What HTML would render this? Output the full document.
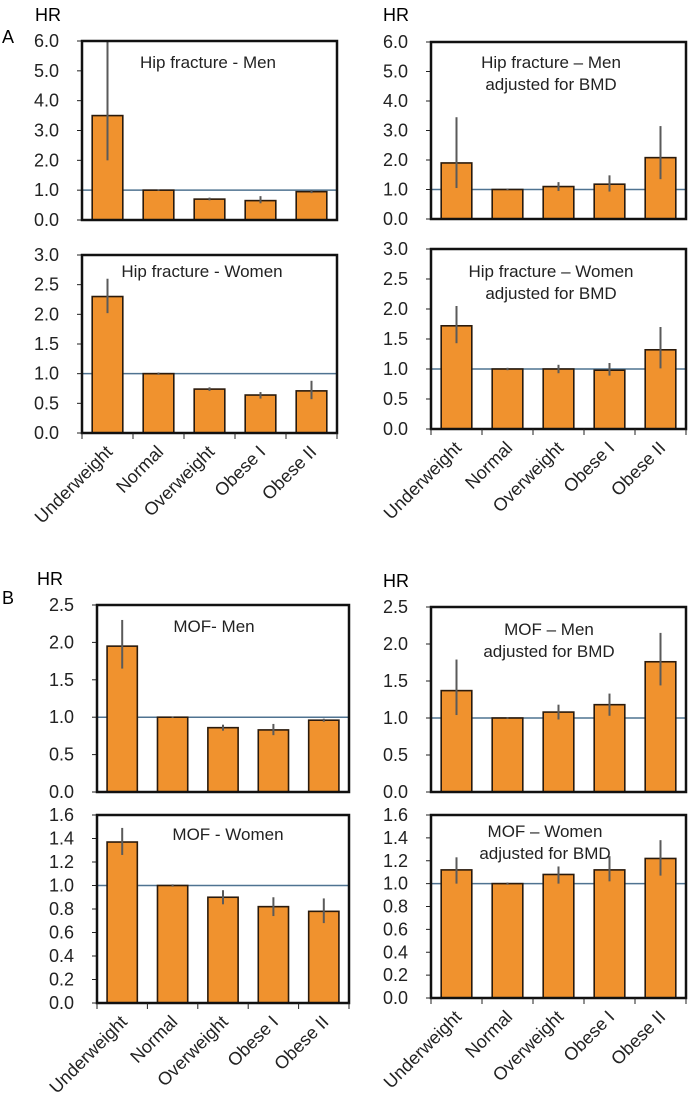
<!DOCTYPE html>
<html><head><meta charset="utf-8">
<style>
html,body{margin:0;padding:0;background:#fff;}
svg{display:block;font-family:"Liberation Sans",sans-serif;}
</style></head>
<body>
<svg id="fig" width="696" height="1109" viewBox="0 0 696 1109" xmlns="http://www.w3.org/2000/svg">
<text x="2" y="43" font-size="18">A</text>
<text x="2" y="604" font-size="18">B</text>
<text x="35" y="21" font-size="18">HR</text>
<text x="383" y="21" font-size="18">HR</text>
<text x="37" y="585" font-size="18">HR</text>
<text x="383" y="587" font-size="18">HR</text>
</svg>
<script>
const categories = ["Underweight","Normal","Overweight","Obese I","Obese II"];

const hipMenVals = [3.5,1.0,0.7,0.65,0.95];
const hipMenLo = [2.0,0.98,0.66,0.56,0.9];
const hipMenHi = [6.0,1.02,0.75,0.8,1.0];

const hipWomenVals = [2.3,1.0,0.74,0.64,0.71];
const hipWomenLo = [2.02,0.98,0.71,0.58,0.57];
const hipWomenHi = [2.6,1.02,0.77,0.69,0.88];

const hipMenAdjVals = [1.9,1.0,1.1,1.18,2.08];
const hipMenAdjLo = [1.05,0.98,0.95,0.93,1.35];
const hipMenAdjHi = [3.45,1.02,1.25,1.48,3.15];

const hipWomenAdjVals = [1.72,1.0,1.0,0.98,1.32];
const hipWomenAdjLo = [1.43,0.98,0.93,0.89,1.01];
const hipWomenAdjHi = [2.05,1.02,1.07,1.1,1.7];

const mofMenVals = [1.95,1.0,0.86,0.83,0.96];
const mofMenLo = [1.65,0.99,0.82,0.76,0.94];
const mofMenHi = [2.3,1.01,0.9,0.91,0.98];

const mofWomenVals = [1.37,1.0,0.9,0.82,0.78];
const mofWomenLo = [1.26,0.99,0.84,0.74,0.68];
const mofWomenHi = [1.49,1.01,0.96,0.9,0.89];

const mofMenAdjVals = [1.37,1.0,1.08,1.18,1.76];
const mofMenAdjLo = [1.04,0.99,0.98,1.03,1.44];
const mofMenAdjHi = [1.79,1.01,1.18,1.33,2.15];

const mofWomenAdjVals = [1.12,1.0,1.08,1.12,1.22];
const mofWomenAdjLo = [1.0,0.99,1.0,1.02,1.07];
const mofWomenAdjHi = [1.23,1.01,1.15,1.24,1.38];

const ticks6 = ["0.0","1.0","2.0","3.0","4.0","5.0","6.0"];
const ticks3 = ["0.0","0.5","1.0","1.5","2.0","2.5","3.0"];
const ticks25 = ["0.0","0.5","1.0","1.5","2.0","2.5"];
const ticks16 = ["0.0","0.2","0.4","0.6","0.8","1.0","1.2","1.4","1.6"];

const NS = "http://www.w3.org/2000/svg";
const svg = document.getElementById("fig");
function mk(tag, attrs){const e=document.createElementNS(NS,tag);for(const k in attrs)e.setAttribute(k,attrs[k]);svg.appendChild(e);return e;}

const panels = [
 {id:"hip-men",x0:82,x1:337,y0:41,y1:220,ticks:ticks6,v:hipMenVals,lo:hipMenLo,hi:hipMenHi,title:["Hip fracture - Men"],tx:208,ty:68,cats:false},
 {id:"hip-women",x0:82,x1:337,y0:255,y1:433,ticks:ticks3,v:hipWomenVals,lo:hipWomenLo,hi:hipWomenHi,title:["Hip fracture - Women"],tx:202,ty:277,cats:true},
 {id:"hip-men-adj",x0:431,x1:686,y0:42,y1:219,ticks:ticks6,v:hipMenAdjVals,lo:hipMenAdjLo,hi:hipMenAdjHi,title:["Hip fracture \u2013 Men","adjusted for BMD"],tx:551,ty:68,cats:false},
 {id:"hip-women-adj",x0:431,x1:686,y0:249,y1:429,ticks:ticks3,v:hipWomenAdjVals,lo:hipWomenAdjLo,hi:hipWomenAdjHi,title:["Hip fracture \u2013 Women","adjusted for BMD"],tx:551,ty:277,cats:true},
 {id:"mof-men",x0:97,x1:349,y0:605,y1:792,ticks:ticks25,v:mofMenVals,lo:mofMenLo,hi:mofMenHi,title:["MOF- Men"],tx:214,ty:632,cats:false},
 {id:"mof-women",x0:97,x1:349,y0:815,y1:1003,ticks:ticks16,v:mofWomenVals,lo:mofWomenLo,hi:mofWomenHi,title:["MOF - Women"],tx:228,ty:840,cats:true},
 {id:"mof-men-adj",x0:431,x1:686,y0:607,y1:792,ticks:ticks25,v:mofMenAdjVals,lo:mofMenAdjLo,hi:mofMenAdjHi,title:["MOF \u2013 Men","adjusted for BMD"],tx:549,ty:635,cats:false},
 {id:"mof-women-adj",x0:431,x1:686,y0:815,y1:998,ticks:ticks16,v:mofWomenAdjVals,lo:mofWomenAdjLo,hi:mofWomenAdjHi,title:["MOF \u2013 Women","adjusted for BMD"],tx:545,ty:837,cats:true}
];

panels.forEach(p=>{
  const tmax = parseFloat(p.ticks[p.ticks.length-1]);
  const yS = v => p.y1 - (Math.min(v,tmax)/tmax)*(p.y1-p.y0);
  const slot = (p.x1-p.x0)/categories.length;
  const xC = i => p.x0 + slot*(i+0.5);
  const bw = slot*0.6;
  p.ticks.forEach(t=>{
    const y = yS(parseFloat(t));
    const tk = mk("line",{x1:p.x0-5,x2:p.x0,y1:y,y2:y,stroke:"#222","stroke-width":1});
    
    
    const lb = mk("text",{x:p.x0-23,y:y+6,"font-size":18,"text-anchor":"end",fill:"#222"});
    lb.textContent = t;
    
    
  });
  const ref = mk("line",{x1:p.x0,x2:p.x1,y1:yS(1),y2:yS(1),stroke:"#4f7391","stroke-width":1.5});
  
  
  p.v.forEach((v,i)=>{
    const b = mk("rect",{x:xC(i)-bw/2,y:yS(v),width:bw,height:p.y1-yS(v),fill:"#f0922e",stroke:"#2a1a0c","stroke-width":1.6});
    
    
    const e = mk("line",{x1:xC(i),x2:xC(i),y1:yS(p.lo[i]),y2:yS(p.hi[i]),stroke:"#5a5a5a","stroke-width":2});
    
    
  });
  const bx = mk("rect",{x:p.x0,y:p.y0,width:p.x1-p.x0,height:p.y1-p.y0,fill:"none",stroke:"#111","stroke-width":2.5});
  
  
  p.title.forEach((s,k)=>{
    const t = mk("text",{x:p.tx,y:p.ty+k*22,"font-size":17,"text-anchor":"middle",fill:"#222"});
    t.textContent = s;
    
    
  });
  if(p.cats){
    for(let i=0;i<=categories.length;i++){
      const x = p.x0+slot*i;
      const tk = mk("line",{x1:x,x2:x,y1:p.y1,y2:p.y1+6,stroke:"#222","stroke-width":1});
      
      
    }
    categories.forEach((c,i)=>{
      const x = xC(i)+6, y = p.y1+20;
      const t = mk("text",{x:x,y:y,"font-size":18,"text-anchor":"end",fill:"#222",transform:"rotate(-45 "+x+" "+y+")"});
      t.textContent = c;
      
      
    });
  }
});
</script>
</body></html>
